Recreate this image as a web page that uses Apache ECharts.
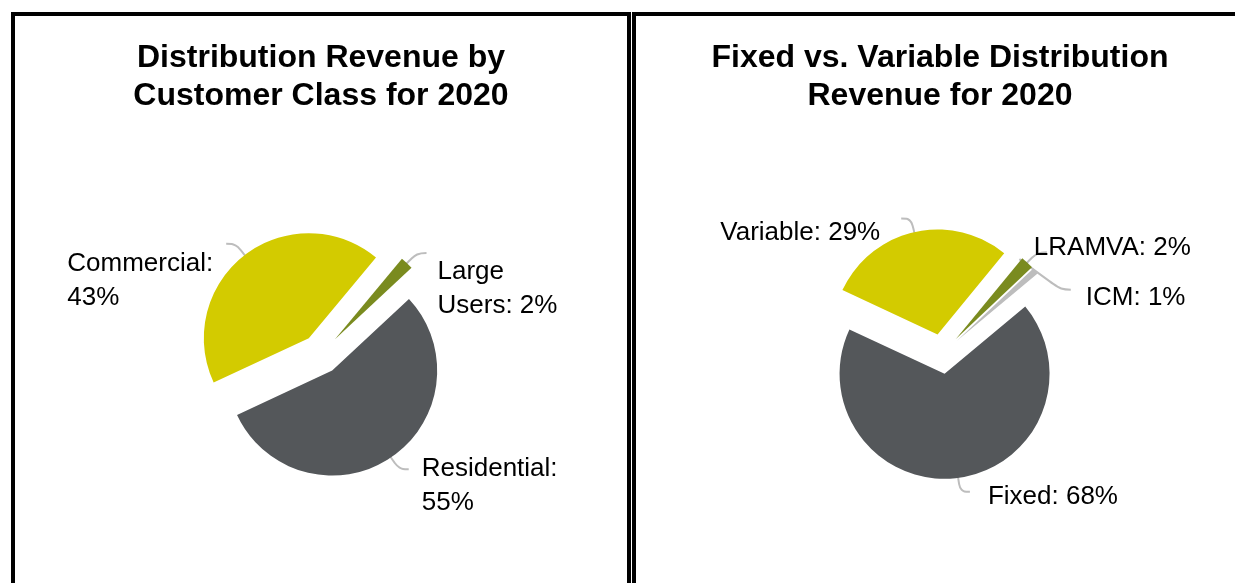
<!DOCTYPE html>
<html>
<head>
<meta charset="utf-8">
<script src="https://cdn.jsdelivr.net/npm/echarts@6/dist/echarts.min.js"></script>
<style>
* {
  margin: 0;
  padding: 0;
}
body {
  width: 1235px;
  height: 583px;
  overflow: hidden;
  background: #fff;
  position: relative;
}
.panel {
  position: absolute;
  top: 12px;
  height: 700px;
  border: 4px solid #000;
}
#left { left: 11px; width: 612px; }
#right { left: 632px; width: 608px; }
</style>
</head>
<body>
<!--两个面板，各放一个饼图-->
<div class="panel" id="left"></div>
<div class="panel" id="right"></div>
<script>
// 左图: customer class
const leftNames = ['Residential', 'Commercial', 'Large Users'];
const leftValues = [55, 43, 2];
// 右图: fixed vs variable
const rightNames = ['Variable', 'LRAMVA', 'ICM', 'Fixed'];
const rightValues = [29, 2, 1, 68];

const FONT = '"Liberation Sans", Arial, sans-serif';

// small nudges of the labels, [dx, dy]
const leftShift = [[8, 17], [-8, 37], [6, 36]];
const rightShift = [[-16, 14], [-18, -5], [10, 8], [13, 5]];

function makeOption(title, names, values, colors, startAngle, fmt, shift) {
  return {
    animation: false,
    title: {
      text: title,
      left: 'center',
      top: 23,
      padding: 0,
      textStyle: {
        fontFamily: FONT,
        fontSize: 32,
        fontWeight: 'bold',
        lineHeight: 38,
        color: '#000'
      }
    },
    series: [
      {
        type: 'pie',
        center: [306, 338],
        radius: 105,
        startAngle: startAngle,
        selectedMode: 'multiple',
        selectedOffset: 20,
        silent: true,
        data: names.map((n, i) => ({
          name: n,
          value: values[i],
          selected: true,
          itemStyle: { color: colors[i] }
        })),
        label: {
          show: true,
          position: 'outside',
          formatter: fmt,
          fontFamily: FONT,
          fontSize: 26,
          lineHeight: 34,
          color: '#000',
          rich: {
            l: { align: 'left', fontFamily: FONT, fontSize: 26, lineHeight: 34, color: '#000' }
          }
        },
        labelLine: {
          show: true,
          length: 14,
          length2: 10,
          smooth: 0.4,
          lineStyle: { color: '#bdbdbd', width: 2 }
        },
        labelLayout: p => {
          const s = shift[p.dataIndex];
          const res = { dx: s[0], dy: s[1] };
          const pts = p.labelLinePoints;
          if (pts && pts.length === 3) {
            // 引导线从扇区内部开始
            const ux = pts[0][0] - pts[1][0];
            const uy = pts[0][1] - pts[1][1];
            const len = Math.sqrt(ux * ux + uy * uy) || 1;
            res.labelLinePoints = [
              [pts[0][0] + ux / len * 20, pts[0][1] + uy / len * 20],
              pts[1],
              pts[2]
            ];
          }
          return res;
        }
      }
    ]
  };
}

function twoLines(a, b) {
  return '{l|' + a + '}\n{l|' + b + '}';
}

const leftChart = echarts.init(document.getElementById('left'));
leftChart.setOption(makeOption(
  'Distribution Revenue by\nCustomer Class for 2020',
  leftNames, leftValues,
  ['#54575a', '#d3cb00', '#7a8b1f'],
  43,
  p => p.name === 'Large Users'
    ? twoLines('Large', 'Users: ' + p.value + '%')
    : twoLines(p.name + ':', p.value + '%'),
  leftShift
));

const rightChart = echarts.init(document.getElementById('right'));
rightChart.setOption(makeOption(
  'Fixed vs. Variable Distribution\nRevenue for 2020',
  rightNames, rightValues,
  ['#d3cb00', '#7a8b1f', '#bdbdbd', '#54575a'],
  155,
  p => p.name + ': ' + p.value + '%',
  rightShift
));
</script>
</body>
</html>
